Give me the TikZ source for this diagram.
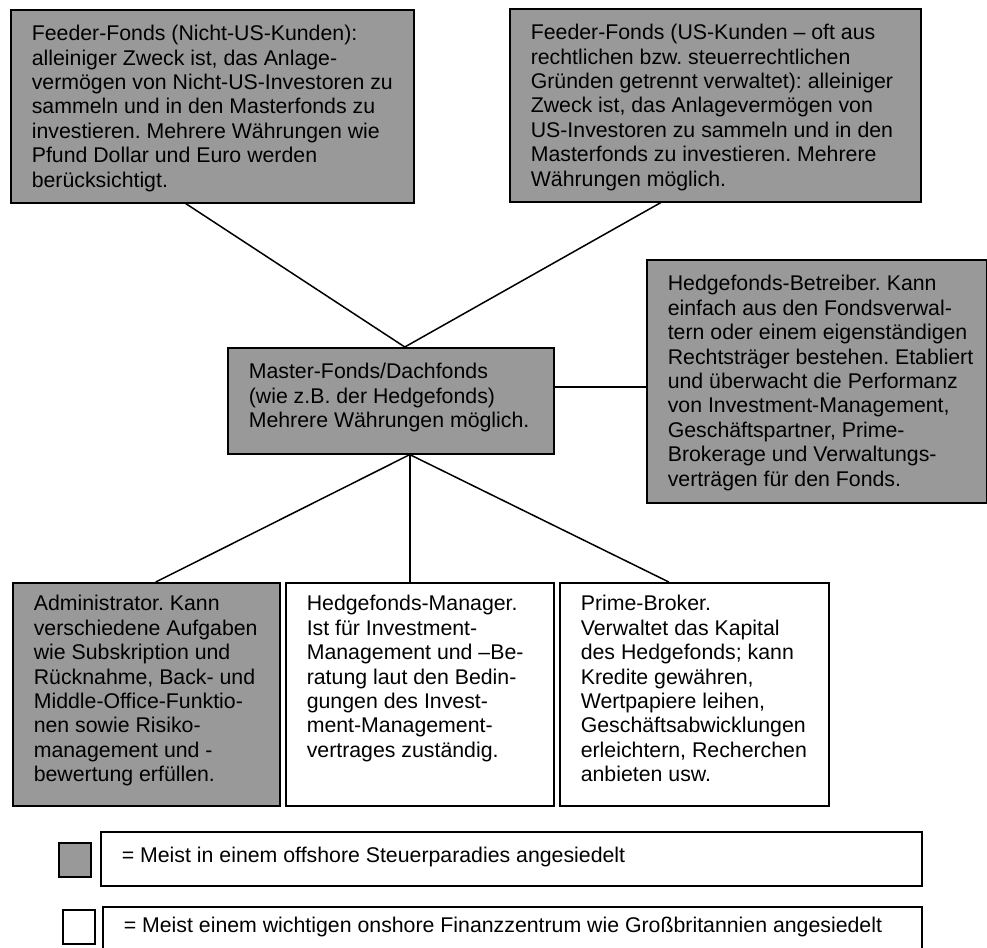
\documentclass[tikz,border=0pt]{standalone}
\usepackage{fontspec}
\setmainfont{Liberation Sans}
\usepackage{tikz}
\usepackage{xcolor}
\frenchspacing

\definecolor{boxgray}{HTML}{999999}
\newcommand{\fundtext}[4][31pt]{\hspace*{21pt}\parbox[t][#3][t]{#2}{\raggedright\rule{0pt}{#1}#4}}

\tikzset{
  gbox/.style={draw, fill=boxgray, line width=1.6pt, inner sep=0pt, anchor=north west},
  wbox/.style={draw, fill=white, line width=1.6pt, inner sep=0pt, anchor=north west},
  link/.style={line width=1.5pt}
}

\begin{document}
\begin{tikzpicture}[x=1pt, y=-1pt, font=\fontsize{21.3}{24.4}\selectfont]
  \useasboundingbox (0,0) rectangle (987,947);

  \node[gbox] (feedA) at (10,9) {\fundtext{382pt}{193pt}{Feeder-Fonds (Nicht-US-Kunden):\\
    alleiniger Zweck ist, das Anlage-\\
    vermögen von Nicht-US-Investoren zu\\
    sammeln und in den Masterfonds zu\\
    investieren. Mehrere Währungen wie\\
    Pfund Dollar und Euro werden\\
    berücksichtigt.}};
  \node[gbox] (feedB) at (509,8) {\fundtext{390pt}{193pt}{Feeder-Fonds (US-Kunden – oft aus\\
    rechtlichen bzw. steuerrechtlichen\\
    Gründen getrennt verwaltet): alleiniger\\
    Zweck ist, das Anlagevermögen von\\
    US-Investoren zu sammeln und in den\\
    Masterfonds zu investieren. Mehrere\\
    Währungen möglich.}};
  \node[gbox] (master) at (227,347) {\fundtext{305pt}{106pt}{Master-Fonds/Dachfonds\\
    (wie z.B. der Hedgefonds)\\
    Mehrere Währungen möglich.}};
  \node[gbox] (betr) at (646,259) {\fundtext{319pt}{243pt}{Hedgefonds-Betreiber. Kann\\
    einfach aus den Fondsverwal-\\
    tern oder einem eigenständigen\\
    Rechtsträger bestehen. Etabliert\\
    und überwacht die Performanz\\
    von Investment-Management,\\
    Geschäftspartner, Prime-\\
    Brokerage und Verwaltungs-\\
    verträgen für den Fonds.}};

  \node[gbox] (admin) at (12,582) {\fundtext[28pt]{246pt}{223pt}{Administrator. Kann\\
    verschiedene Aufgaben\\
    wie Subskription und\\
    Rücknahme, Back- und\\
    Middle-Office-Funktio-\\
    nen sowie Risiko-\\
    management und -\\
    bewertung erfüllen.}};
  \node[wbox] (manager) at (285,582) {\fundtext[28pt]{247pt}{223pt}{Hedgefonds-Manager.\\
    Ist für Investment-\\
    Management und –Be-\\
    ratung laut den Bedin-\\
    gungen des Invest-\\
    ment-Management-\\
    vertrages zuständig.}};
  \node[wbox] (prime) at (559,582) {\fundtext[28pt]{248pt}{223pt}{Prime-Broker.\\
    Verwaltet das Kapital\\
    des Hedgefonds; kann\\
    Kredite gewähren,\\
    Wertpapiere leihen,\\
    Geschäftsabwicklungen\\
    erleichtern, Recherchen\\
    anbieten usw.}};

  \draw[link] ([xshift=-26.5pt]feedA.south) -- ([xshift=14pt]master.north);
  \draw[link] ([xshift=-54.5pt]feedB.south) -- ([xshift=14pt]master.north);
  \draw[link] ([yshift=14pt]master.east) -- ([yshift=-5.5pt]betr.west);
  \draw[link] ([xshift=19pt]master.south) -- ([xshift=9.5pt]admin.north);
  \draw[link] ([xshift=19pt]master.south) -- ([xshift=-10pt]manager.north);
  \draw[link] ([xshift=19pt]master.south) -- ([xshift=-25.5pt]prime.north);

  % legend
  \node[gbox, minimum width=32pt, minimum height=34pt] (keyOff) at (58,842) {};
  \node[wbox] (noteOff) at (100,831) {\fundtext{800pt}{54pt}{= Meist in einem offshore Steuerparadies angesiedelt}};
  \node[wbox, minimum width=32pt, minimum height=34pt] (keyOn) at (62,909) {};
  \node[wbox] (noteOn) at (102,906) {\fundtext[26pt]{798pt}{54pt}{= Meist einem wichtigen onshore Finanzzentrum wie Großbritannien angesiedelt}};
\end{tikzpicture}
\end{document}
